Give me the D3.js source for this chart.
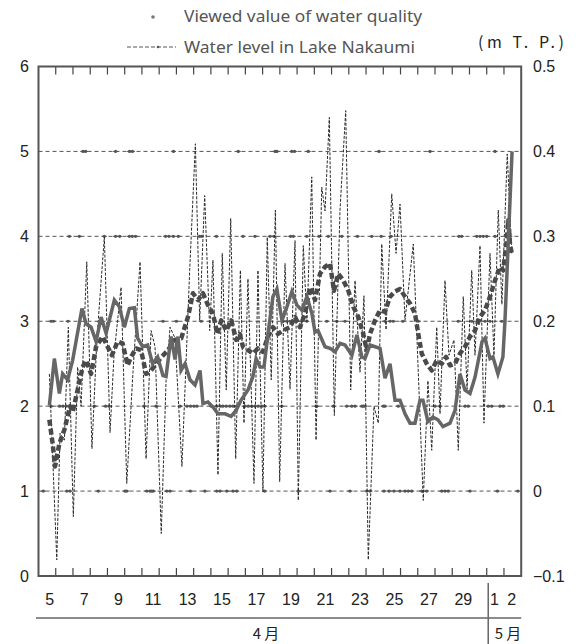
<!DOCTYPE html>
<html><head><meta charset="utf-8">
<script src="https://cdn.jsdelivr.net/npm/d3@7"></script>
<style>html,body{margin:0;padding:0;background:#fff;}</style>
</head><body>
<svg id="c" width="578" height="644"></svg>
<script>
// ---- data (time = days since 5 April 00:00) ----
const dayLabels = ["5","6","7","8","9","10","11","12","13","14","15","16","17","18","19","20","21","22","23","24","25","26","27","28","29","30","1","2"];
const shownDays = ["5","7","9","11","13","15","17","19","21","23","25","27","29","1","2"];
const monthLabels = ["4 月","5 月"];
const leftTicks = [0,1,2,3,4,5,6];
const rightTicks = [-0.1,0,0.1,0.2,0.3,0.4,0.5];

// thick solid line
const solidT = [0.63,0.92,1.21,1.40,1.69,1.98,2.52,2.76,3.05,3.34,3.63,3.92,4.40,4.69,4.98,5.27,5.56,5.75,6.04,6.33,6.62,6.91,7.22,7.40,7.69,7.92,8.09,8.27,8.50,8.79,9.08,9.37,9.54,9.83,10.12,10.41,10.82,11.17,11.46,11.75,12.15,12.44,12.62,12.85,13.08,13.31,13.60,13.83,14.12,14.41,14.70,14.99,15.28,15.57,15.86,16.04,16.21,16.62,16.91,17.20,17.49,17.78,18.18,18.47,18.76,18.94,19.23,19.52,19.81,20.10,20.39,20.68,20.97,21.26,21.55,21.84,22.13,22.30,22.59,22.88,23.17,23.46,23.87,24.16,24.45,24.74,25.03,25.32,25.73,25.90,26.19,26.36,26.65,26.94,27.06,27.47];
const solidV = [2.01,2.56,2.15,2.38,2.31,2.54,3.15,2.97,2.93,2.76,3.05,2.86,3.25,3.17,2.93,3.15,3.16,2.80,2.70,2.72,2.50,2.58,2.36,2.35,2.82,2.55,2.82,2.42,2.50,2.31,2.25,2.42,2.03,2.05,1.99,1.91,1.91,1.88,1.95,2.07,2.19,2.35,2.56,2.46,2.46,2.85,3.29,3.38,3.01,3.17,3.35,3.19,3.13,3.29,3.09,2.87,2.89,2.70,2.68,2.64,2.74,2.72,2.60,2.84,2.58,2.56,2.72,2.70,2.68,2.33,2.50,2.07,2.07,1.91,1.80,1.80,2.07,2.07,1.82,1.87,1.84,1.76,1.80,1.95,2.38,2.19,2.15,2.34,2.76,2.80,2.56,2.58,2.38,2.58,3.01,5.00];

// thick dashed line
const dashT = [0.63,0.82,0.96,1.21,1.50,1.83,1.98,2.27,2.56,2.76,3.05,3.34,3.72,4.01,4.26,4.59,4.88,5.17,5.37,5.66,5.95,6.24,6.53,6.82,7.15,7.51,7.90,8.28,8.67,8.96,9.25,9.54,9.83,10.12,10.37,10.60,10.89,11.18,11.47,11.67,11.86,12.15,12.44,12.73,13.02,13.31,13.60,13.89,14.18,14.59,14.88,15.17,15.46,15.75,16.04,16.33,16.62,16.91,17.14,17.39,17.68,17.97,18.26,18.55,18.84,19.04,19.23,19.52,19.81,20.10,20.39,20.68,20.97,21.26,21.55,21.84,22.03,22.23,22.52,22.81,23.10,23.39,23.64,23.87,24.16,24.45,24.74,25.03,25.32,25.61,25.90,26.19,26.48,26.77,26.96,27.16,27.25,27.35,27.45];
const dashV = [1.84,1.56,1.29,1.56,1.72,2.00,1.93,2.19,2.46,2.54,2.38,2.70,2.82,2.70,2.60,2.76,2.74,2.48,2.58,2.68,2.66,2.38,2.42,2.50,2.58,2.66,2.78,2.80,3.05,3.33,3.25,3.33,3.19,3.09,2.85,3.01,2.89,3.01,2.78,2.85,2.70,2.66,2.62,2.68,2.64,2.82,2.93,2.85,2.89,2.93,3.05,2.93,3.09,3.40,3.25,3.56,3.64,3.68,3.36,3.56,3.48,3.36,3.17,3.05,2.85,2.66,2.85,3.01,3.13,3.11,3.29,3.35,3.38,3.29,3.21,3.09,2.85,2.62,2.50,2.42,2.54,2.50,2.58,2.48,2.50,2.62,2.70,2.82,2.89,3.05,3.13,3.29,3.48,3.64,3.60,3.95,4.19,3.91,3.80];

// water level in Lake Nakaumi (m T.P., right axis)
const levelT = [0.63,1.06,1.25,1.50,1.73,2.02,2.27,2.47,2.80,3.10,3.39,3.82,4.15,4.38,4.79,5.12,5.48,5.89,6.24,6.53,6.76,7.12,7.40,7.63,7.92,8.32,8.77,9.10,9.35,9.64,9.93,10.12,10.41,10.66,10.89,11.15,11.44,11.71,11.92,12.15,12.50,12.73,13.02,13.27,13.50,13.74,13.99,14.30,14.59,14.88,15.07,15.36,15.57,15.85,16.10,16.43,16.62,16.87,17.16,17.49,17.82,18.11,18.36,18.65,18.88,19.13,19.46,19.71,19.91,20.16,20.49,20.74,20.97,21.26,21.74,22.01,22.32,22.59,22.81,23.10,23.29,23.58,23.81,24.10,24.35,24.64,24.86,25.13,25.32,25.61,25.84,26.19,26.42,26.67,26.88,27.19,27.45];
const levelV = [0.138,-0.081,0.068,0.060,0.193,-0.030,0.146,0.100,0.270,0.050,0.180,0.299,0.069,0.160,0.240,0.009,0.140,0.270,0.038,0.189,0.170,-0.050,0.130,0.193,0.180,0.029,0.260,0.409,0.201,0.348,0.189,0.272,0.019,0.280,0.119,0.321,0.038,0.260,0.080,0.250,0.009,0.260,-0.001,0.299,0.131,0.331,0.011,0.268,0.120,0.295,-0.011,0.289,0.200,0.370,0.060,0.358,0.330,0.440,0.089,0.331,0.448,0.119,0.248,0.140,0.230,-0.081,0.100,0.080,0.291,0.190,0.350,0.280,0.338,0.201,0.291,0.150,-0.011,0.130,0.048,0.193,0.091,0.248,0.160,0.178,0.048,0.229,0.120,0.260,0.160,0.289,0.080,0.280,0.160,0.331,0.220,0.397,0.280];

// viewed values of water quality (times of observations at each value)
const viewed1 = [0.28,1.64,1.83,3.47,5.02,5.12,6.28,6.47,6.57,6.66,7.44,7.63,8.81,9.65,10.34,10.53,10.92,11.28,11.50,13.12,15.07,16.91,18.07,19.04,19.23,20.04,20.33,20.62,20.97,21.26,21.45,21.65,22.23,22.52,23.39,23.58,23.77,25.03,26.62,27.81];
const viewed2 = [0.73,1.22,1.42,1.62,2.06,3.24,3.89,4.09,6.12,6.82,8.21,8.61,8.82,9.02,9.19,10.02,10.34,10.56,10.70,10.89,11.10,11.28,11.50,11.98,12.17,12.37,12.56,12.75,12.95,13.12,14.11,16.14,17.10,17.88,18.17,18.36,18.75,18.84,18.94,20.00,20.10,20.87,23.00,23.29,24.74,24.93,26.09,26.29,26.77,26.96];
const viewed3 = [0.73,0.87,1.71,7.22,8.00,9.44,10.60,11.18,14.20,14.41,14.59,14.99,15.27,15.56,16.72,17.30,17.78,20.10,20.39,20.58,21.13,22.03,24.35,25.13,25.90,26.19,26.87];
const viewed4 = [1.79,2.37,3.82,4.47,4.71,5.27,5.44,5.63,7.37,7.57,7.82,8.11,9.34,9.45,10.32,11.86,12.56,13.43,13.66,14.62,14.78,15.56,16.27,16.81,17.59,18.50,19.33,19.88,20.45,24.39,24.55,25.42,25.61,25.80,26.00,26.48,27.35];
const viewed5 = [2.58,2.73,4.47,5.28,5.45,7.83,11.59,13.72,13.83,14.69,14.85,15.65,19.75,22.71,26.48];

// ---- drawing ----
const svg = d3.select("#c");
const X0 = 38.5, X1 = 521.2, Y0 = 66.5, Y1 = 576;
const x = d3.scaleLinear().domain([0, dayLabels.length]).range([X0, X1]);
const yL = d3.scaleLinear().domain([0, 6]).range([Y1, Y0]);
const yR = d3.scaleLinear().domain([-0.1, 0.5]).range([Y1, Y0]);
const numFont = "'Liberation Sans', Arial, sans-serif";
const jpFont = "'Noto Sans CJK JP', sans-serif";

// gridlines
svg.append("g").selectAll("line").data(leftTicks.filter(d => d > 0 && d < 6)).join("line")
  .attr("x1", X0).attr("x2", X1).attr("y1", d => yL(d)).attr("y2", d => yL(d))
  .attr("stroke", "#555").attr("stroke-width", 1).attr("stroke-dasharray", "4,3");

// day ticks (top and bottom)
const tickIdx = d3.range(1, dayLabels.length);
svg.append("g").selectAll("line").data(tickIdx).join("line")
  .attr("x1", d => x(d)).attr("x2", d => x(d)).attr("y1", Y0).attr("y2", Y0 + 8)
  .attr("stroke", "#444").attr("stroke-width", 1.2);
svg.append("g").selectAll("line").data(tickIdx).join("line")
  .attr("x1", d => x(d)).attr("x2", d => x(d)).attr("y1", Y1).attr("y2", Y1 - 8)
  .attr("stroke", "#444").attr("stroke-width", 1.2);

// viewed value markers
const viewed = [[1, viewed1], [2, viewed2], [3, viewed3], [4, viewed4], [5, viewed5]];
const dotData = viewed.flatMap(([v, arr]) => arr.map(t => ({t, v})));
const dg = svg.append("g");
dg.selectAll("circle").data(dotData).join("circle")
  .attr("cx", d => x(d.t)).attr("cy", d => yL(d.v)).attr("r", 1.6).attr("fill", "#555");
dg.selectAll("line").data(dotData).join("line")
  .attr("x1", d => x(d.t) - 2.5).attr("x2", d => x(d.t) + 2.5)
  .attr("y1", d => yL(d.v)).attr("y2", d => yL(d.v)).attr("stroke", "#555").attr("stroke-width", 1);

// water level thin dashed line
const levelLine = d3.line().x(d => x(d[0])).y(d => yR(d[1]));
svg.append("path").datum(levelT.map((t, i) => [t, levelV[i]]))
  .attr("d", levelLine).attr("fill", "none").attr("stroke", "#2a2a2a")
  .attr("stroke-width", 1).attr("stroke-dasharray", "3,1.5");

// thick dashed
const lineL = d3.line().x(d => x(d[0])).y(d => yL(d[1]));
svg.append("path").datum(dashT.map((t, i) => [t, dashV[i]]))
  .attr("d", lineL).attr("fill", "none").attr("stroke", "#4a4a4a")
  .attr("stroke-width", 4.5).attr("stroke-dasharray", "6,3").attr("stroke-linejoin", "round");

// thick solid
svg.append("path").datum(solidT.map((t, i) => [t, solidV[i]]))
  .attr("d", lineL).attr("fill", "none").attr("stroke", "#666")
  .attr("stroke-width", 3.5).attr("stroke-linejoin", "miter");

// frame
svg.append("rect").attr("x", X0).attr("y", Y0).attr("width", X1 - X0).attr("height", Y1 - Y0)
  .attr("fill", "none").attr("stroke", "#555").attr("stroke-width", 2);

// left axis labels
svg.append("g").selectAll("text").data(leftTicks).join("text")
  .attr("x", 29).attr("y", d => yL(d)).attr("dy", "0.36em").attr("text-anchor", "end")
  .attr("font-family", numFont).attr("font-size", 16).attr("fill", "#222").text(d => d);
// right axis labels
svg.append("g").selectAll("text").data(rightTicks).join("text")
  .attr("x", 533).attr("y", d => yR(d)).attr("dy", "0.36em").attr("text-anchor", "start")
  .attr("font-family", numFont).attr("font-size", 16).attr("fill", "#222")
  .text(d => d < 0 ? "\u2212" + Math.abs(d) : (d === 0 ? "0" : d.toFixed(1)));

// day labels
const labelData = dayLabels.map((d, i) => ({d, i})).filter(o => shownDays.includes(o.d) && !((o.d === "1" || o.d === "2") && o.i < 20));
svg.append("g").selectAll("text").data(labelData).join("text")
  .attr("x", o => x(o.i + 0.5) + (o.i < 26 ? 2.5 : -1)).attr("y", 605).attr("text-anchor", "middle")
  .attr("font-family", numFont).attr("font-size", 16).attr("fill", "#222").text(o => o.d);

// month divider lines
svg.append("line").attr("x1", 36).attr("x2", X1).attr("y1", 618).attr("y2", 618)
  .attr("stroke", "#666").attr("stroke-width", 1.5);
svg.append("line").attr("x1", x(26) + 1.5).attr("x2", x(26) + 1.5).attr("y1", 583).attr("y2", 644)
  .attr("stroke", "#666").attr("stroke-width", 1.5);
svg.append("text").attr("x", 266).attr("y", 639).attr("text-anchor", "middle")
  .attr("font-family", jpFont).attr("font-size", 15).attr("fill", "#222").text(monthLabels[0]);
svg.append("text").attr("x", 508).attr("y", 639).attr("text-anchor", "middle")
  .attr("font-family", jpFont).attr("font-size", 15).attr("fill", "#222").text(monthLabels[1]);

// legend
svg.append("circle").attr("cx", 153).attr("cy", 17).attr("r", 1.8).attr("fill", "#777");
svg.append("text").attr("x", 184).attr("y", 22).attr("font-family", "'Noto Sans', sans-serif")
  .attr("font-size", 17).attr("fill", "#555").attr("textLength", 238).attr("lengthAdjust", "spacingAndGlyphs")
  .text("Viewed value of water quality");
svg.append("line").attr("x1", 127).attr("x2", 176).attr("y1", 47).attr("y2", 47)
  .attr("stroke", "#555").attr("stroke-width", 1).attr("stroke-dasharray", "4,2");
svg.append("circle").attr("cx", 158).attr("cy", 47).attr("r", 1.3).attr("fill", "#555");
svg.append("text").attr("x", 184).attr("y", 53).attr("font-family", "'Noto Sans', sans-serif")
  .attr("font-size", 17).attr("fill", "#555").attr("textLength", 231).attr("lengthAdjust", "spacingAndGlyphs")
  .text("Water level in Lake Nakaumi");
svg.append("text").attr("x", 478).attr("y", 48).attr("font-family", jpFont)
  .attr("font-size", 16).attr("fill", "#222").attr("textLength", 86).attr("lengthAdjust", "spacing")
  .text("(m T. P.)");
</script>
</body></html>
